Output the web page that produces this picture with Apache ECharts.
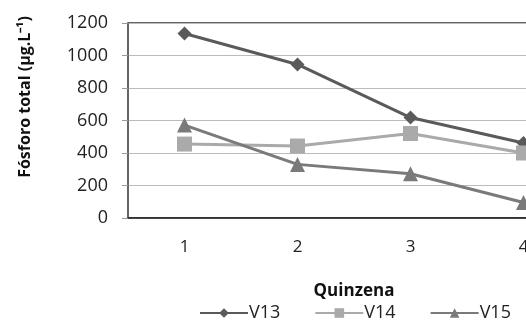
<!DOCTYPE html>
<html><head><meta charset="utf-8">
<script src="https://cdn.jsdelivr.net/npm/echarts@6/dist/echarts.min.js"></script>
<style>html,body{margin:0;padding:0;background:#fff}#c{width:526px;height:327px}</style>
</head><body><div id="c"></div>
<script>
const categories = ['1', '2', '3', '4'];
const v13 = [1135, 945, 618, 462];
const v14 = [455, 443, 520, 400];
const v15 = [572, 330, 272, 95];
const yTicks = [0, 200, 400, 600, 800, 1000, 1200];
const yTitle = 'Fósforo total (µg.L⁻¹)';

const font = 'Open Sans';
const chart = echarts.init(document.getElementById('c'));
function s(name, data, color, symbol, size) {
  return {name, type: 'line', data, symbol, symbolSize: size,
    lineStyle: {color, width: 3}, itemStyle: {color}, z: 3};
}
chart.setOption({
  animation: false,
  textStyle: {fontFamily: font},
  grid: {left: 128, top: 23, width: 452, height: 195, show: true, borderColor: '#333', borderWidth: 1.5,
    containLabel: false, outerBoundsMode: 'none'},
  graphic: [{type: 'text', x: 25, y: 97, rotation: Math.PI / 2,
    style: {text: yTitle, fontSize: 16, fontWeight: 'bold', fill: '#111', fontFamily: font,
      align: 'center', verticalAlign: 'middle'}}],
  xAxis: {type: 'category', data: categories, boundaryGap: true,
    axisLine: {lineStyle: {color: '#222', width: 1.5}}, axisTick: {show: false},
    axisLabel: {fontSize: 17, color: '#222', margin: 21, fontFamily: font},
    name: 'Quinzena', nameLocation: 'middle', nameGap: 65,
    nameTextStyle: {fontSize: 17, fontWeight: 'bold', color: '#111', fontFamily: font}},
  yAxis: {type: 'value', min: yTicks[0], max: yTicks[yTicks.length - 1], interval: 200,
    axisLine: {show: true, lineStyle: {color: '#666', width: 1.5}},
    axisTick: {show: true, inside: false, length: 6, lineStyle: {color: '#999'}},
    splitLine: {lineStyle: {color: '#bbb', width: 1}},
    axisLabel: {fontSize: 18, color: '#222', margin: 20, fontFamily: font, formatter: v => String(v)}},
  legend: {bottom: 0, left: 194, itemWidth: 48, itemHeight: 12, itemGap: 34,
    textStyle: {fontSize: 18, color: '#222', fontFamily: font, padding: [0, 0, 0, -4]},
    data: ['V13', 'V14', 'V15']},
  series: [
    s('V13', v13, '#5a5a5a', 'diamond', 14),
    s('V14', v14, '#aaaaaa', 'rect', 15),
    s('V15', v15, '#7a7a7a', 'triangle', 15)
  ]
});
</script></body></html>
